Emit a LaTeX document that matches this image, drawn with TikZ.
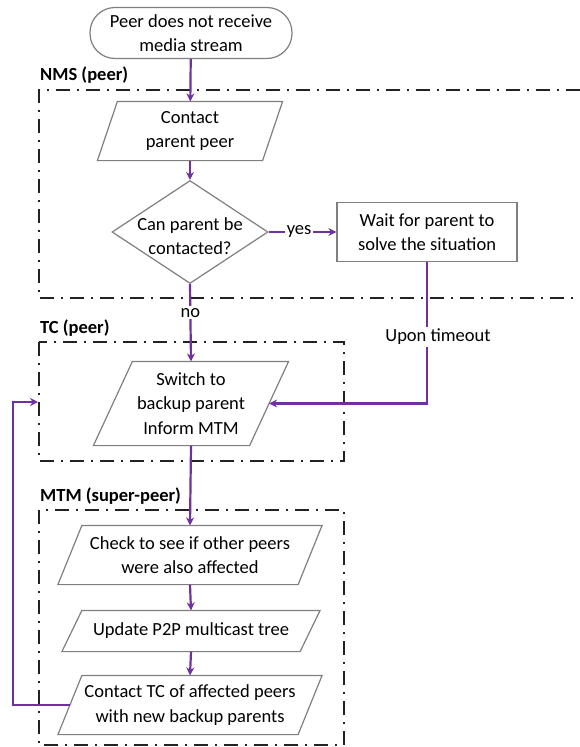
\documentclass[tikz,border=0pt]{standalone}
\usepackage{fontspec}
\setmainfont{Carlito}
\usetikzlibrary{shapes.geometric,arrows.meta,calc}

\definecolor{flowpurple}{HTML}{7030A0}
\definecolor{shapegray}{HTML}{7F7F7F}
\definecolor{zoneline}{HTML}{222222}

\tikzset{
  txt/.style={font=\fontsize{18.5}{24.5}\selectfont},
  box/.style={txt, draw=shapegray, line width=1.2pt, fill=white, align=center,
    inner sep=0pt},
  slantbox/.style={box, draw=none, fill=none},
  terminal/.style={box, rectangle, rounded corners=25pt},
  decision/.style={box, diamond},
  flow/.style={draw=flowpurple, line width=2.2pt,
    -{Stealth[length=8pt,width=8pt]}},
  zone/.style={draw=zoneline, line width=2pt,
    dash pattern=on 14pt off 7pt on 2pt off 7pt},
  zonetitle/.style={anchor=base west, inner sep=0pt,
    font=\bfseries\fontsize{18.5}{22}\selectfont},
  tag/.style={txt, fill=white, inner sep=2pt},
  slantframe/.style={draw=shapegray, line width=1.2pt}
}

% outline of a parallelogram around an invisible node; #2 = half of the slant
\newcommand\slantframe[2]{%
  \draw[slantframe] ($(#1.north west)+(#2,0)$) -- ($(#1.north east)+(#2,0)$)
    -- ($(#1.south east)-(#2,0)$) -- ($(#1.south west)-(#2,0)$) -- cycle;}

\begin{document}
\begin{tikzpicture}[x=1pt,y=-1pt]
\useasboundingbox (0,0) rectangle (580,747);

% swim-lane regions
\draw[zone] (580,90) -- (39,90) -- (39,298) -- (580,298);
\draw[zone] (39,342) rectangle (344,461);
\draw[zone] (39,510) rectangle (344,745);
\node[zonetitle] (nmslabel) at (40,80) {NMS (peer)};
\node[zonetitle] (tclabel) at (40,333) {TC (peer)};
\node[zonetitle] (mtmlabel) at (40,501) {MTM (super-peer)};

% process steps
\node[terminal, minimum width=202pt, minimum height=51pt] (start) at (191,33)
  {Peer does not receive\\media stream};
\node[slantbox, minimum width=164pt, minimum height=58pt] (contact) at (190,131)
  {Contact\\parent peer};
\slantframe{contact}{10}
\node[decision, minimum width=156pt, minimum height=103pt,
  label={[txt, align=center, inner sep=0pt, yshift=-4pt]center:Can parent be\\contacted?}]
  (dec) at (190,232) {};
\node[box, minimum width=180pt, minimum height=59pt] (wait) at (427,232)
  {Wait for parent to\\solve the situation};
\node[slantbox, minimum width=155pt, minimum height=83pt] (switch) at (191,403.5)
  {Switch to\\backup parent\\Inform MTM};
\slantframe{switch}{19.5}
\node[slantbox, minimum width=239pt, minimum height=58pt] (check) at (190,555)
  {Check to see if other peers\\were also affected};
\slantframe{check}{12}
\node[slantbox, minimum width=237pt, minimum height=40pt] (update) at (191,631)
  {Update P2P multicast tree};
\slantframe{update}{10}
\node[slantbox, minimum width=239pt, minimum height=58pt] (notify) at (190,705)
  {Contact TC of affected peers\\with new backup parents};
\slantframe{notify}{12}

\coordinate (loopx) at (13,705);
\coordinate (tcin) at (38,402);

% connectors
\draw[flow] (start) -- (contact);
\draw[flow] (contact) -- (dec);
\draw[flow] (dec.east) -- node[tag, pos=0.45] (yes) {yes} (wait.west);
\draw[flow] (dec.south) -- node[tag, pos=0.37] (no) {no} (switch.north);
\draw[flow] (wait.south) -- node[tag, pos=0.53, xshift=11pt] (timeout) {Upon timeout}
  (wait.south |- switch.east) -- (switch.east);
\draw[flow] (switch.south) -- (check.north);
\draw[flow] (check.south) -- (update.north);
\draw[flow] (update.south) -- (notify.north);
\draw[flow] (notify.west) -- (loopx) |- (tcin);
\end{tikzpicture}
\end{document}
